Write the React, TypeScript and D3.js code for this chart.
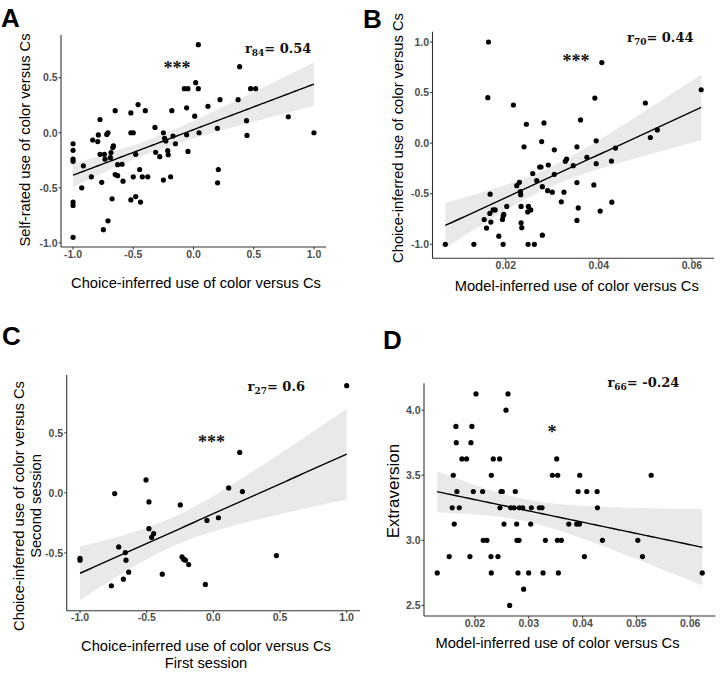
import React from "react";
import * as d3 from "d3";

type Pt = [number, number];

// Panel A: choice-inferred (x) vs self-rated (y) use of color versus Cs
const choiceVsSelfRated: Pt[] = [
  [-1, -0.1], [-1, -0.16], [-1, -0.24], [-1, -0.26], [-1, -0.63], [-1, -0.66], [-1, -0.95],
  [-0.914, -0.3], [-0.928, -0.5], [-0.848, -0.4], [-0.837, -0.066], [-0.795, -0.08], [-0.79, -0.02],
  [-0.776, 0.12], [-0.776, -0.196], [-0.762, -0.45], [-0.748, -0.88], [-0.74, -0.196], [-0.734, -0.24],
  [-0.72, -0.015], [-0.71, 0.0], [-0.71, -0.8], [-0.69, -0.226], [-0.685, -0.18], [-0.676, -0.6],
  [-0.67, -0.135], [-0.665, -0.12], [-0.65, 0.2], [-0.65, -0.38], [-0.63, -0.29], [-0.63, -0.39],
  [-0.593, -0.286], [-0.585, -0.44], [-0.52, 0.18], [-0.52, 0.0], [-0.5, 0.0], [-0.5, -0.4],
  [-0.52, -0.61], [-0.48, -0.196], [-0.48, -0.58], [-0.46, 0.256], [-0.447, -0.334], [-0.44, -0.63],
  [-0.425, -0.4], [-0.4, 0.2], [-0.38, -0.4], [-0.32, 0.048], [-0.314, -0.178], [-0.28, -0.217],
  [-0.25, 0.0], [-0.25, -0.43], [-0.24, -0.05], [-0.23, -0.075], [-0.214, -0.163], [-0.21, -0.2],
  [-0.19, -0.4], [-0.18, 0.2], [-0.17, -0.03], [-0.15, -0.1], [-0.076, 0.4], [-0.057, 0.226],
  [-0.057, -0.018], [-0.046, 0.4], [-0.046, -0.17], [0.01, 0.15], [0.018, 0.455], [0.04, 0.8],
  [0.04, 0.4], [0.046, 0.0], [0.12, 0.24], [0.198, 0.04], [0.2, -0.455], [0.206, -0.334],
  [0.22, 0.3], [0.37, 0.3], [0.383, 0.6], [0.44, 0.11], [0.444, -0.024], [0.474, 0.4],
  [0.516, 0.4], [0.787, 0.145], [1.0, 0.0],
];

// Panel B: model-inferred (x) vs choice-inferred (y)
const modelVsChoice: Pt[] = [
  [0.007, -1.0], [0.01314, -1.0], [0.01629, 1.0], [0.01614, 0.45], [0.01664, -0.505],
  [0.01536, -0.755], [0.01586, -0.84], [0.01657, -0.695], [0.01679, -0.78], [0.01729, -0.66],
  [0.01771, -0.66], [0.0185, -0.92], [0.01929, -0.755], [0.01943, -1.0], [0.01943, -0.72],
  [0.01957, -0.705], [0.02021, -0.626], [0.02164, 0.377], [0.02236, -0.42], [0.02293, -0.387],
  [0.02314, -0.48], [0.02321, -0.51], [0.02393, -0.036], [0.02443, 0.187], [0.02329, -0.626],
  [0.02329, -0.787], [0.02343, -0.836], [0.02471, -0.68], [0.02486, -0.626], [0.02479, -1.0],
  [0.02536, -0.66], [0.02579, -0.3], [0.02614, -1.0], [0.02664, -0.37], [0.02729, -0.236],
  [0.02757, -0.236], [0.02771, 0.016], [0.02786, -0.43], [0.02786, -0.91], [0.02821, 0.2],
  [0.029, -0.47], [0.02914, -0.216], [0.03, -0.485], [0.03043, -0.066], [0.03043, -0.308],
  [0.03193, -0.58], [0.0325, -0.485], [0.03279, -0.18], [0.03307, -0.157], [0.0345, -0.223],
  [0.03529, -0.036], [0.03529, -0.39], [0.03529, -0.764], [0.03557, -0.64], [0.03607, 0.23],
  [0.03743, -0.14], [0.03893, -0.413], [0.03914, 0.446], [0.03943, -0.203], [0.03943, 0.023],
  [0.04029, -0.672], [0.04064, 0.797], [0.04271, -0.177], [0.04279, -0.584], [0.04357, -0.049],
  [0.05, 0.397], [0.05107, 0.056], [0.05257, 0.131], [0.062, 0.528],
];

// Panel C: first-session (x) vs second-session (y) choice-inferred use
const sessionOneVsTwo: Pt[] = [
  [-1.0, -0.544], [-1.0, -0.56], [-0.765, -0.773], [-0.74, -0.006], [-0.71, -0.45],
  [-0.675, -0.718], [-0.66, -0.497], [-0.655, -0.56], [-0.635, -0.66], [-0.505, 0.108],
  [-0.483, -0.075], [-0.483, -0.298], [-0.463, -0.37], [-0.448, -0.34], [-0.383, -0.677],
  [-0.248, -0.1], [-0.235, -0.533], [-0.223, -0.552], [-0.21, -0.56], [-0.185, -0.597],
  [-0.06, -0.762], [-0.048, -0.229], [0.038, -0.207], [0.115, 0.041], [0.198, 0.337],
  [0.218, 0.011], [0.473, -0.522], [1.0, 0.892],
];

// Panel D: model-inferred (x) vs extraversion (y)
const modelVsExtraversion: Pt[] = [
  [0.013, 2.75], [0.01522, 2.875], [0.01597, 3.5], [0.01578, 3.25], [0.01616, 3.125],
  [0.01647, 3.875], [0.01653, 3.75], [0.01665, 3.375], [0.01709, 3.25], [0.01758, 3.625],
  [0.01845, 3.625], [0.01907, 2.875], [0.01926, 3.75], [0.01944, 3.875], [0.01969, 3.375],
  [0.02019, 4.125], [0.02143, 3.375], [0.02155, 3.0], [0.02223, 3.0], [0.02298, 2.875],
  [0.02304, 3.5], [0.02304, 2.75], [0.02341, 3.625], [0.02428, 2.875], [0.02459, 3.625],
  [0.02465, 3.25], [0.02484, 3.375], [0.02509, 3.375], [0.0254, 3.125], [0.02577, 4.0],
  [0.02614, 4.125], [0.02645, 2.5], [0.02664, 3.25], [0.02726, 3.25], [0.0275, 3.375],
  [0.02775, 3.125], [0.02781, 3.0], [0.028, 2.75], [0.02819, 3.0], [0.02825, 3.25],
  [0.02887, 3.25], [0.02905, 2.625], [0.02998, 2.75], [0.03036, 3.125], [0.03048, 3.25],
  [0.03197, 3.25], [0.03247, 3.25], [0.03265, 2.75], [0.03309, 3.0], [0.03439, 3.5],
  [0.03519, 3.625], [0.03538, 3.5], [0.03532, 3.0], [0.0355, 2.75], [0.03606, 3.0],
  [0.03743, 3.125], [0.03891, 3.125], [0.03916, 3.375], [0.03941, 3.125], [0.03947, 3.5],
  [0.04034, 2.875], [0.04078, 3.375], [0.0427, 3.375], [0.04276, 3.25], [0.04369, 3.0],
  [0.05026, 3.0], [0.05113, 2.875], [0.05274, 3.5], [0.06223, 2.75],
];

const ticksChoice = [-1, -0.5, 0, 0.5, 1];
const ticksSelfRated = [-1, -0.5, 0, 0.5];
const ticksModelB = [0.02, 0.04, 0.06];
const ticksChoiceY = [-1, -0.5, 0, 0.5, 1];
const ticksSecondSession = [-0.5, 0, 0.5];
const ticksModelD = [0.02, 0.03, 0.04, 0.05, 0.06];
const ticksExtraversion = [2.5, 3, 3.5, 4];

const panelLetters = ["A", "B", "C", "D"];
const dfLabels = ["84", "70", "27", "66"];
const rLabels = ["0.54", "0.44", "0.6", "-0.24"];
const starLabels = ["***", "***", "***", "*"];

const SANS = "'Liberation Sans', Arial, sans-serif";
const SERIF = "'DejaVu Serif', 'Liberation Serif', serif";

// two-sided 95% t quantile (Cornish-Fisher expansion)
function t975(df: number) {
  const z = 1.959964;
  const g1 = (z ** 3 + z) / 4;
  const g2 = (5 * z ** 5 + 16 * z ** 3 + 3 * z) / 96;
  const g3 = (3 * z ** 7 + 19 * z ** 5 + 17 * z ** 3 - 15 * z) / 384;
  return z + g1 / df + g2 / df ** 2 + g3 / df ** 3;
}

// ordinary least squares fit with a 95% confidence band
function lmBand(points: Pt[]) {
  const n = points.length;
  const xbar = d3.mean(points, (p) => p[0]) as number;
  const ybar = d3.mean(points, (p) => p[1]) as number;
  let sxx = 0, sxy = 0;
  for (const [x, y] of points) {
    sxx += (x - xbar) ** 2;
    sxy += (x - xbar) * (y - ybar);
  }
  const b = sxy / sxx;
  const a = ybar - b * xbar;
  let sse = 0;
  for (const [x, y] of points) sse += (y - a - b * x) ** 2;
  const s = Math.sqrt(sse / (n - 2));
  const t = t975(n - 2);
  const [x0, x1] = d3.extent(points, (p) => p[0]) as [number, number];
  return d3.range(80).map((i) => {
    const x = x0 + ((x1 - x0) * i) / 79;
    const yh = a + b * x;
    const se = s * Math.sqrt(1 / n + (x - xbar) ** 2 / sxx);
    return { x, y: yh, lo: yh - t * se, hi: yh + t * se };
  });
}

function expand([a, b]: [number, number]): [number, number] {
  const d = (b - a) * 0.05;
  return [a - d, b + d];
}

const fmt = (spec: string) => (v: number) => d3.format(spec)(v).replace("\u2212", "-");

type PanelProps = {
  idx: number;
  points: Pt[];
  rect: { l: number; r: number; t: number; b: number };
  xTicks: number[];
  yTicks: number[];
  xFmt: (v: number) => string;
  yFmt: (v: number) => string;
  xTitle: string[];
  xTitlePos: [number, number];
  yTitle: string[];
  yTitlePos: [number, number];
  yTitleSize?: number;
  letterPos: [number, number];
  rPos: [number, number];
  starPos: [number, number];
  starSize: number;
};

function Panel(p: PanelProps) {
  const band = lmBand(p.points);
  const xDom = expand(d3.extent(p.points, (d) => d[0]) as [number, number]);
  const yMin = Math.min(d3.min(p.points, (d) => d[1]) as number, d3.min(band, (d) => d.lo) as number);
  const yMax = Math.max(d3.max(p.points, (d) => d[1]) as number, d3.max(band, (d) => d.hi) as number);
  const yDom = expand([yMin, yMax]);
  const x = d3.scaleLinear().domain(xDom).range([p.rect.l, p.rect.r]);
  const y = d3.scaleLinear().domain(yDom).range([p.rect.b, p.rect.t]);

  const area = d3
    .area<{ x: number; lo: number; hi: number }>()
    .x((d) => x(d.x))
    .y0((d) => y(d.lo))
    .y1((d) => y(d.hi));
  const line = d3
    .line<{ x: number; y: number }>()
    .x((d) => x(d.x))
    .y((d) => y(d.y));

  const axisColor = "#333";
  const tickColor = "#4d4d4d";
  const lineH = 17;

  return (
    <g>
      <text
        x={p.letterPos[0]}
        y={p.letterPos[1]}
        fontFamily={SANS}
        fontWeight="bold"
        fontSize={26}
        fill="#000"
      >
        {panelLetters[p.idx]}
      </text>

      <path d={area(band) || ""} fill="#e9e9e9" />
      <path d={line(band) || ""} fill="none" stroke="#000" strokeWidth={1.4} />
      {p.points.map((d, i) => (
        <circle key={i} cx={x(d[0])} cy={y(d[1])} r={2.6} fill="#000" />
      ))}

      {/* axes */}
      <line x1={p.rect.l} x2={p.rect.l} y1={p.rect.t} y2={p.rect.b} stroke={axisColor} strokeWidth={1.1} />
      <line x1={p.rect.l} x2={p.rect.r} y1={p.rect.b} y2={p.rect.b} stroke={axisColor} strokeWidth={1.1} />
      {p.xTicks.map((t) => (
        <g key={"x" + t}>
          <line x1={x(t)} x2={x(t)} y1={p.rect.b} y2={p.rect.b + 2.5} stroke={axisColor} strokeWidth={1} />
          <text
            x={x(t)}
            y={p.rect.b + 10.5}
            textAnchor="middle"
            fontFamily={SANS}
            fontWeight="bold"
            fontSize={10.5}
            fill={tickColor}
          >
            {p.xFmt(t)}
          </text>
        </g>
      ))}
      {p.yTicks.map((t) => (
        <g key={"y" + t}>
          <line x1={p.rect.l - 2.5} x2={p.rect.l} y1={y(t)} y2={y(t)} stroke={axisColor} strokeWidth={1} />
          <text
            x={p.rect.l - 3.5}
            y={y(t)}
            dy="0.36em"
            textAnchor="end"
            fontFamily={SANS}
            fontWeight="bold"
            fontSize={10.5}
            fill={tickColor}
          >
            {p.yFmt(t)}
          </text>
        </g>
      ))}

      {/* axis titles */}
      {p.xTitle.map((s, i) => (
        <text
          key={"xt" + i}
          x={p.xTitlePos[0]}
          y={p.xTitlePos[1] + (i - (p.xTitle.length - 1) / 2) * lineH}
          dominantBaseline="central"
          textAnchor="middle"
          fontFamily={SANS}
          fontSize={14.7}
          fill="#000"
        >
          {s}
        </text>
      ))}
      {p.yTitle.map((s, i) => {
        const cx = p.yTitlePos[0] + (i - (p.yTitle.length - 1) / 2) * lineH;
        const cy = p.yTitlePos[1];
        return (
          <text
            key={"yt" + i}
            transform={`translate(${cx},${cy}) rotate(-90)`}
            dominantBaseline="central"
            textAnchor="middle"
            fontFamily={SANS}
            fontSize={p.yTitleSize ?? 14.7}
            fill="#000"
          >
            {s}
          </text>
        );
      })}

      {/* correlation annotation */}
      <text
        x={x(p.rPos[0])}
        y={y(p.rPos[1])}
        textAnchor="middle"
        fontFamily={SERIF}
        fontWeight="bold"
        fontSize={13}
        fill="#111"
      >
        <tspan>r</tspan>
        <tspan dy={3} fontSize={9}>
          {dfLabels[p.idx]}
        </tspan>
        <tspan dy={-3}>= {rLabels[p.idx]}</tspan>
      </text>
      <text
        x={x(p.starPos[0])}
        y={y(p.starPos[1])}
        dy={p.starSize * 0.55}
        textAnchor="middle"
        fontFamily="'Liberation Serif', serif"
        fontWeight="bold"
        fontSize={p.starSize}
        fill="#111"
      >
        {starLabels[p.idx]}
      </text>
    </g>
  );
}

export default function App() {
  const f1 = fmt(".1f");
  const f2 = fmt(".2f");
  return (
    <svg
      width={720}
      height={676}
      viewBox="0 0 720 676"
      style={{ position: "absolute", left: 0, top: 0, background: "#fff" }}
    >
      <rect width={720} height={676} fill="#fff" />
      <Panel
        idx={0}
        points={choiceVsSelfRated}
        rect={{ l: 61, r: 326, t: 35, b: 247 }}
        xTicks={ticksChoice}
        yTicks={ticksSelfRated}
        xFmt={f1}
        yFmt={f1}
        xTitle={["Choice-inferred use of color versus Cs"]}
        xTitlePos={[196, 283]}
        yTitle={["Self-rated use of color versus Cs"]}
        yTitlePos={[25, 140]}
        letterPos={[1, 27]}
        rPos={[0.703, 0.72]}
        starPos={[-0.137, 0.626]}
        starSize={18}
      />
      <Panel
        idx={1}
        points={modelVsChoice}
        rect={{ l: 432.5, r: 714, t: 31.7, b: 258.3 }}
        xTicks={ticksModelB}
        yTicks={ticksChoiceY}
        xFmt={f2}
        yFmt={f1}
        xTitle={["Model-inferred use of color versus Cs"]}
        xTitlePos={[576.7, 286]}
        yTitle={["Choice-inferred use of color versus Cs"]}
        yTitlePos={[398, 138]}
        letterPos={[363, 28]}
        rPos={[0.0532, 1.0]}
        starPos={[0.0351, 0.85]}
        starSize={18}
      />
      <Panel
        idx={2}
        points={sessionOneVsTwo}
        rect={{ l: 66.7, r: 360, t: 375, b: 610.7 }}
        xTicks={ticksChoice}
        yTicks={ticksSecondSession}
        xFmt={f1}
        yFmt={f1}
        xTitle={["Choice-inferred use of color versus Cs", "First session"]}
        xTitlePos={[206, 654]}
        yTitle={["Choice-inferred use of color versus Cs", "Second session"]}
        yTitlePos={[27.5, 506]}
        letterPos={[2, 345]}
        rPos={[0.472, 0.845]}
        starPos={[-0.0135, 0.452]}
        starSize={18}
      />
      <Panel
        idx={3}
        points={modelVsExtraversion}
        rect={{ l: 424, r: 715.5, t: 383.3, b: 616 }}
        xTicks={ticksModelD}
        yTicks={ticksExtraversion}
        xFmt={f2}
        yFmt={f1}
        xTitle={["Model-inferred use of color versus Cs"]}
        xTitlePos={[557.5, 643]}
        yTitle={["Extraversion"]}
        yTitlePos={[393, 491]}
        yTitleSize={17}
        letterPos={[383, 349]}
        rPos={[0.0513, 4.18]}
        starPos={[0.0343, 3.86]}
        starSize={18}
      />
    </svg>
  );
}
